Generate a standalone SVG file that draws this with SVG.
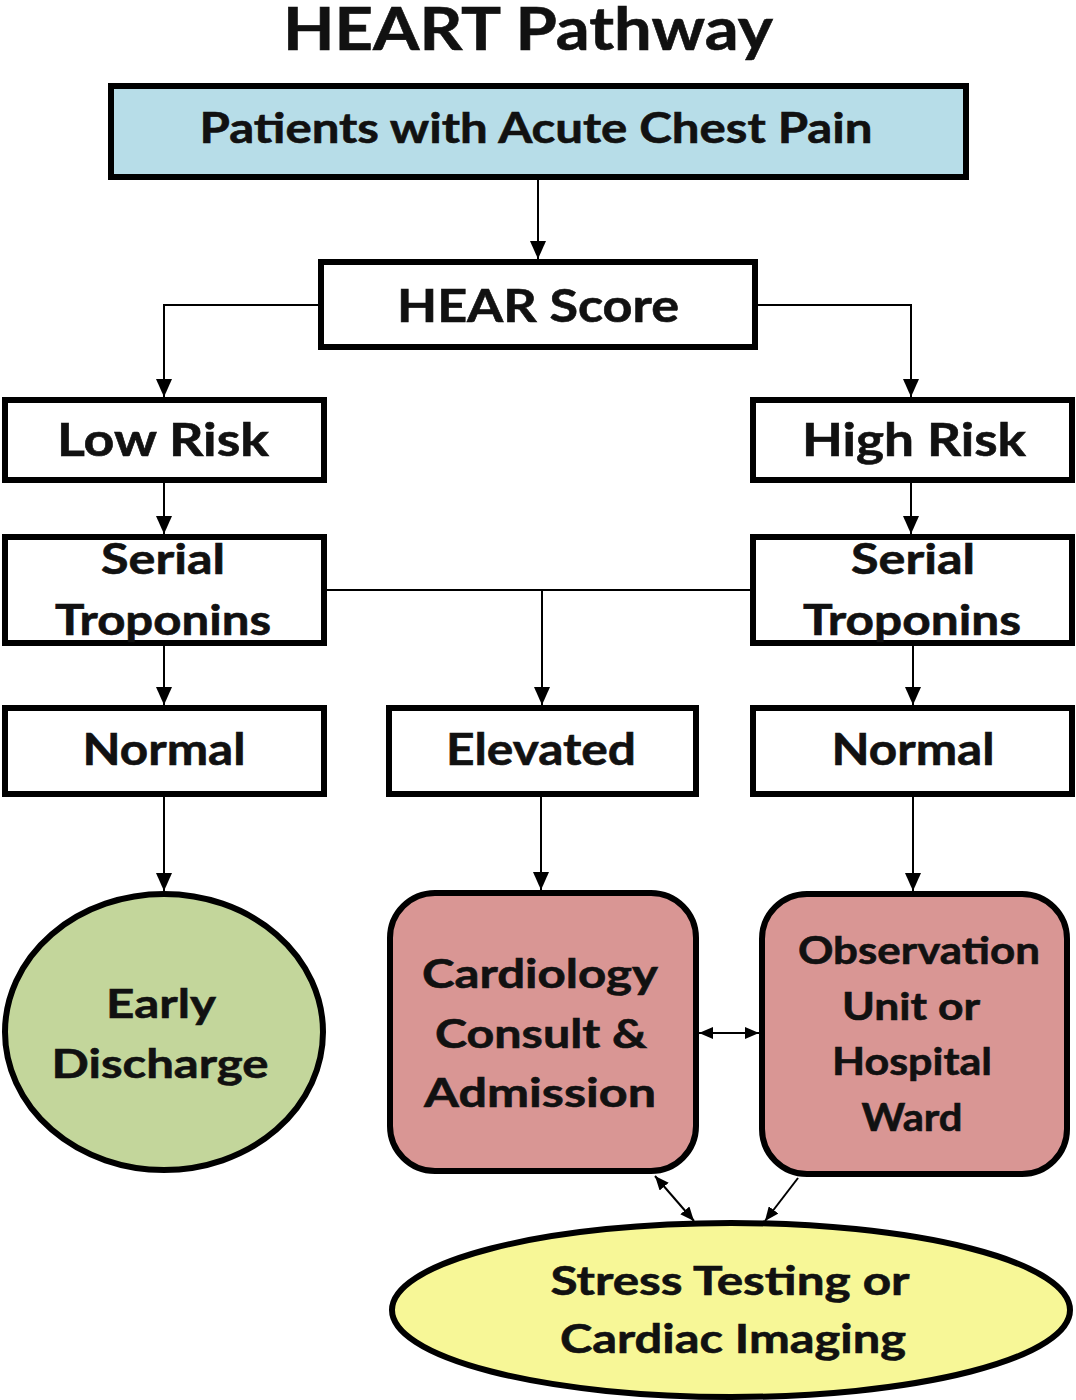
<svg xmlns="http://www.w3.org/2000/svg" width="1076" height="1400" viewBox="0 0 1076 1400">
<defs>
<marker id="ah" markerWidth="18" markerHeight="16" refX="18" refY="8" orient="auto" markerUnits="userSpaceOnUse" viewBox="0 0 18 16">
<path d="M0,0 L18,8 L0,16 z" fill="#000"/>
</marker>
<marker id="ahs" markerWidth="14" markerHeight="12" refX="14" refY="6" orient="auto-start-reverse" markerUnits="userSpaceOnUse" viewBox="0 0 14 12">
<path d="M0,0 L14,6 L0,12 z" fill="#000"/>
</marker>
<style>
text{font-family:Lato,"Liberation Sans",sans-serif;font-weight:bold;fill:#111;stroke:#111;stroke-width:0.6;text-anchor:middle}
.box{fill:#fff;stroke:#000;stroke-width:6}
.ln{fill:none;stroke:#000;stroke-width:2}
.t46{font-size:46px}
.t44{font-size:44px}
.t42{font-size:42px}
.t40{font-size:40px}
.t38{font-size:38px}
</style>
</defs>
<text x="528" y="50" style="font-size:60px" textLength="490" lengthAdjust="spacingAndGlyphs">HEART Pathway</text>
<g id="patients">
<rect x="111" y="86" width="855" height="91" style="fill:#b7dde8;stroke:#000;stroke-width:6"/>
<text x="536" y="143" class="t42" textLength="673" lengthAdjust="spacingAndGlyphs">Patients with Acute Chest Pain</text>
</g>
<g id="hear">
<rect x="321" y="262" width="434" height="85" class="box"/>
<text x="538" y="322" class="t46" textLength="282" lengthAdjust="spacingAndGlyphs">HEAR Score</text>
</g>
<g id="lowrisk">
<rect x="5" y="400" width="319" height="80" class="box"/>
<text x="163" y="456" class="t46" textLength="212" lengthAdjust="spacingAndGlyphs">Low Risk</text>
</g>
<g id="highrisk">
<rect x="753" y="400" width="319" height="80" class="box"/>
<text x="914" y="456" class="t46" textLength="224" lengthAdjust="spacingAndGlyphs">High Risk</text>
</g>
<g id="serial-left">
<rect x="5" y="537" width="319" height="106" class="box"/>
<text x="163" y="574" class="t42" textLength="124" lengthAdjust="spacingAndGlyphs">Serial</text>
<text x="163" y="635" class="t42" textLength="216" lengthAdjust="spacingAndGlyphs">Troponins</text>
</g>
<g id="serial-right">
<rect x="753" y="537" width="319" height="106" class="box"/>
<text x="913" y="574" class="t42" textLength="124" lengthAdjust="spacingAndGlyphs">Serial</text>
<text x="912" y="635" class="t42" textLength="218" lengthAdjust="spacingAndGlyphs">Troponins</text>
</g>
<g id="normal-left">
<rect x="5" y="708" width="319" height="86" class="box"/>
<text x="164" y="765" class="t44" textLength="163" lengthAdjust="spacingAndGlyphs">Normal</text>
</g>
<g id="elevated">
<rect x="389" y="708" width="307" height="86" class="box"/>
<text x="541" y="765" class="t44" textLength="190" lengthAdjust="spacingAndGlyphs">Elevated</text>
</g>
<g id="normal-right">
<rect x="753" y="708" width="319" height="86" class="box"/>
<text x="913" y="765" class="t44" textLength="163" lengthAdjust="spacingAndGlyphs">Normal</text>
</g>
<g id="early">
<ellipse cx="164" cy="1032" rx="159" ry="138" style="fill:#c3d69b;stroke:#000;stroke-width:6"/>
<text x="161" y="1018" class="t40" textLength="110" lengthAdjust="spacingAndGlyphs">Early</text>
<text x="160" y="1078" class="t40" textLength="217" lengthAdjust="spacingAndGlyphs">Discharge</text>
</g>
<g id="cardiology">
<rect x="390" y="893" width="306" height="278" rx="45" style="fill:#d99694;stroke:#000;stroke-width:6"/>
<text x="540" y="988" class="t40" textLength="236" lengthAdjust="spacingAndGlyphs">Cardiology</text>
<text x="541" y="1048" class="t40" textLength="212" lengthAdjust="spacingAndGlyphs">Consult &amp;</text>
<text x="540" y="1107" class="t40" textLength="232" lengthAdjust="spacingAndGlyphs">Admission</text>
</g>
<g id="observation">
<rect x="762" y="894" width="305" height="280" rx="45" style="fill:#d99694;stroke:#000;stroke-width:6"/>
<text x="919" y="964" class="t38" textLength="242" lengthAdjust="spacingAndGlyphs">Observation</text>
<text x="911" y="1020" class="t38" textLength="138" lengthAdjust="spacingAndGlyphs">Unit or</text>
<text x="912" y="1075" class="t38" textLength="160" lengthAdjust="spacingAndGlyphs">Hospital</text>
<text x="912" y="1131" class="t38" textLength="101" lengthAdjust="spacingAndGlyphs">Ward</text>
</g>
<g id="stress">
<ellipse cx="731" cy="1310" rx="339" ry="87" style="fill:#f7f797;stroke:#000;stroke-width:6"/>
<text x="730" y="1295" class="t40" textLength="359" lengthAdjust="spacingAndGlyphs">Stress Testing or</text>
<text x="733" y="1353" class="t40" textLength="346" lengthAdjust="spacingAndGlyphs">Cardiac Imaging</text>
</g>
<g id="connectors">
<line x1="538" y1="180" x2="538" y2="259" class="ln" marker-end="url(#ah)"/>
<polyline points="318,305 164,305 164,397" class="ln" marker-end="url(#ah)"/>
<polyline points="758,305 911,305 911,397" class="ln" marker-end="url(#ah)"/>
<line x1="164" y1="483" x2="164" y2="534" class="ln" marker-end="url(#ah)"/>
<line x1="911" y1="483" x2="911" y2="534" class="ln" marker-end="url(#ah)"/>
<line x1="327" y1="590" x2="750" y2="590" class="ln"/>
<line x1="542" y1="590" x2="542" y2="705" class="ln" marker-end="url(#ah)"/>
<line x1="164" y1="646" x2="164" y2="705" class="ln" marker-end="url(#ah)"/>
<line x1="913" y1="646" x2="913" y2="705" class="ln" marker-end="url(#ah)"/>
<line x1="164" y1="797" x2="164" y2="891" class="ln" marker-end="url(#ah)"/>
<line x1="541" y1="797" x2="541" y2="890" class="ln" marker-end="url(#ah)"/>
<line x1="913" y1="797" x2="913" y2="891" class="ln" marker-end="url(#ah)"/>
<line x1="699" y1="1033" x2="759" y2="1033" class="ln" stroke-width="3" marker-start="url(#ahs)" marker-end="url(#ahs)"/>
<line x1="655" y1="1176" x2="694" y2="1221" class="ln" marker-start="url(#ahs)" marker-end="url(#ahs)"/>
<line x1="798" y1="1178" x2="765" y2="1221" class="ln" stroke-width="1.5" marker-end="url(#ahs)"/>
</g>
</svg>
